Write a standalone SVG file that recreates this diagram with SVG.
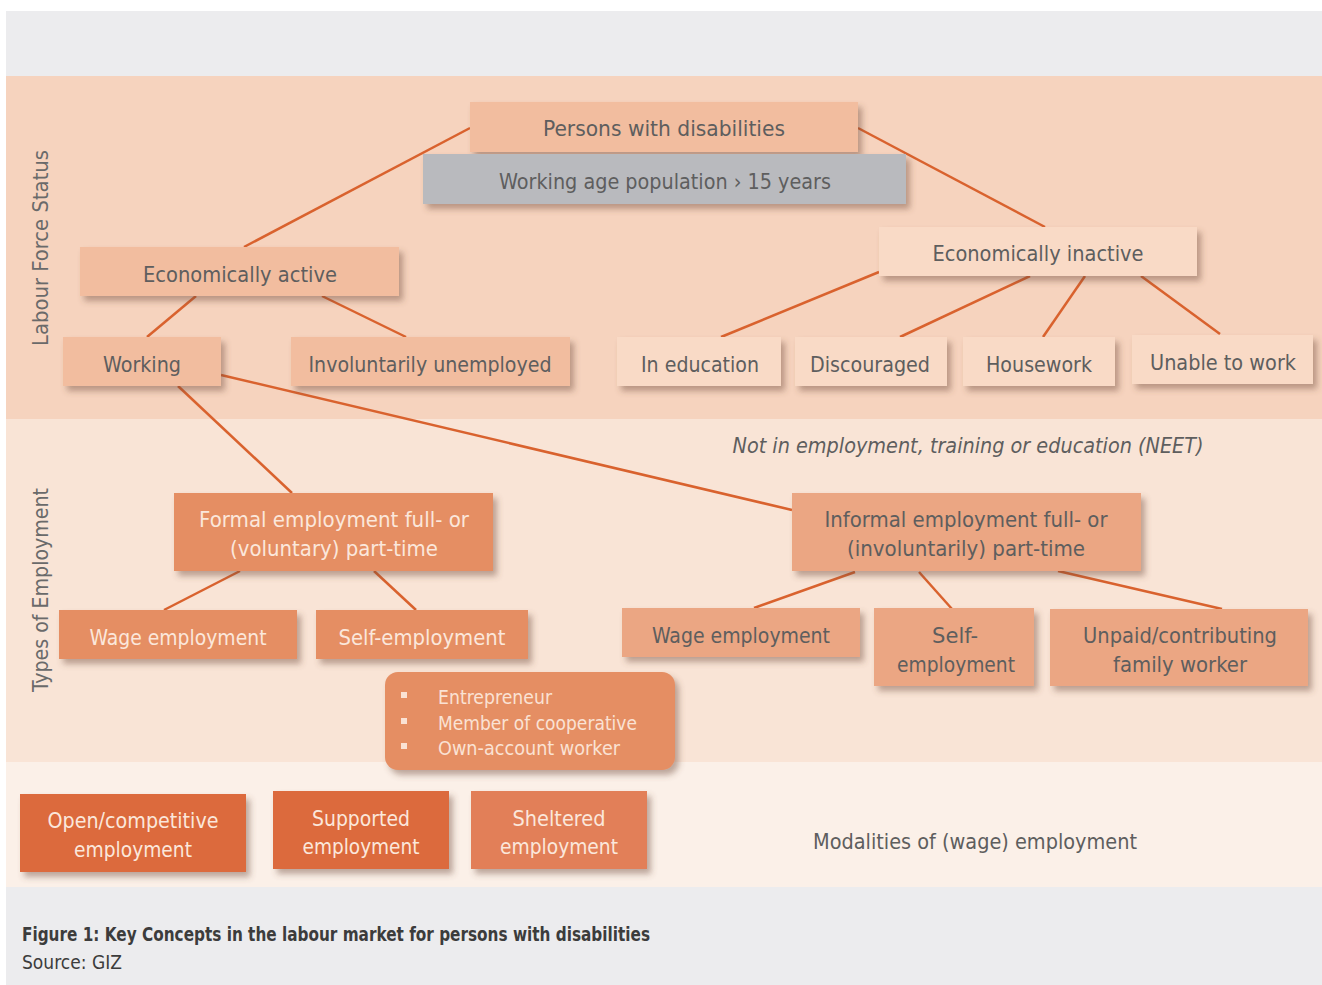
<svg xmlns="http://www.w3.org/2000/svg" width="1322" height="985" viewBox="0 0 1322 985">
<defs>
<filter id="sh" x="-10%" y="-20%" width="130%" height="160%">
<feDropShadow dx="4" dy="5" stdDeviation="3" flood-color="#6e4a3a" flood-opacity="0.45"/>
</filter>
<style>
text{font-family:"DejaVu Sans Condensed","DejaVu Sans","Liberation Sans",sans-serif;}
.t{font-size:22px;fill:#5e5e5e;text-anchor:middle;}
.w{font-size:22px;fill:#fbe7db;text-anchor:middle;}
.b{font-size:19px;fill:#fae2d4;}
.lab{font-size:21px;fill:#6a6a6a;text-anchor:middle;}
.c1{fill:#f2bd9f;filter:url(#sh);}
.c2{fill:#f9dac6;filter:url(#sh);}
.cg{fill:#b9babe;filter:url(#sh);}
.c3{fill:#e58e63;filter:url(#sh);}
.c4{fill:#eba683;filter:url(#sh);}
.c5{fill:#dc6b3c;filter:url(#sh);}
.c6{fill:#e27f58;filter:url(#sh);}
.ln line{stroke:#d9622e;stroke-width:2.5;}
</style>
</defs>
<rect x="0" y="0" width="1322" height="985" fill="#ffffff"/>
<rect x="6" y="11" width="1316" height="974" fill="#ececee"/>
<rect x="6" y="76" width="1316" height="343" fill="#f6d3be"/>
<rect x="6" y="419" width="1316" height="343" fill="#f9e4d6"/>
<rect x="6" y="762" width="1316" height="125" fill="#fbf0e8"/>

<g id="labels">
<text class="lab" transform="translate(48,248) rotate(-90)" textLength="196" lengthAdjust="spacingAndGlyphs">Labour Force Status</text>
<text class="lab" transform="translate(48,590) rotate(-90)" textLength="204" lengthAdjust="spacingAndGlyphs">Types of Employment</text>
<text class="t" x="968" y="453" font-style="italic" textLength="471" lengthAdjust="spacingAndGlyphs">Not in employment, training or education (NEET)</text>
<text class="t" x="975" y="849" textLength="324" lengthAdjust="spacingAndGlyphs">Modalities of (wage) employment</text>
<text x="22" y="941" font-size="19" font-weight="bold" fill="#3c3c3c" textLength="628" lengthAdjust="spacingAndGlyphs">Figure 1: Key Concepts in the labour market for persons with disabilities</text>
<text x="22" y="969" font-size="19" fill="#3c3c3c" textLength="100" lengthAdjust="spacingAndGlyphs">Source: GIZ</text>
</g>

<g id="connectors" class="ln">
<line x1="470" y1="128" x2="244" y2="247"/>
<line x1="858" y1="128" x2="1045" y2="227"/>
<line x1="196" y1="296" x2="147" y2="337"/>
<line x1="322" y1="296" x2="406" y2="337"/>
<line x1="879" y1="272" x2="721" y2="337"/>
<line x1="1030" y1="276" x2="900" y2="337"/>
<line x1="1085" y1="276" x2="1043" y2="337"/>
<line x1="1141" y1="276" x2="1220" y2="334"/>
<line x1="221" y1="375" x2="792" y2="510"/>
<line x1="178" y1="386" x2="292" y2="493"/>
<line x1="240" y1="571" x2="164" y2="610"/>
<line x1="374" y1="571" x2="416" y2="610"/>
<line x1="855" y1="572" x2="754" y2="608"/>
<line x1="919" y1="572" x2="952" y2="609"/>
<line x1="1058" y1="571" x2="1222" y2="609"/>
</g>

<g id="n-persons"><rect class="c1" x="470" y="102" width="388" height="50"/><text class="t" x="664" y="136" textLength="242" lengthAdjust="spacingAndGlyphs">Persons with disabilities</text></g>
<g id="n-working-age"><rect class="cg" x="423" y="154" width="483" height="50"/><text class="t" x="665" y="189" textLength="332" lengthAdjust="spacingAndGlyphs">Working age population › 15 years</text></g>
<g id="n-econ-active"><rect class="c1" x="80" y="247" width="319" height="49"/><text class="t" x="240" y="282" textLength="194" lengthAdjust="spacingAndGlyphs">Economically active</text></g>
<g id="n-econ-inactive"><rect class="c2" x="879" y="227" width="318" height="49"/><text class="t" x="1038" y="261" textLength="211" lengthAdjust="spacingAndGlyphs">Economically inactive</text></g>
<g id="n-working"><rect class="c1" x="63" y="337" width="158" height="49"/><text class="t" x="142" y="372" textLength="78" lengthAdjust="spacingAndGlyphs">Working</text></g>
<g id="n-unemployed"><rect class="c1" x="291" y="337" width="279" height="49"/><text class="t" x="430" y="372" textLength="243" lengthAdjust="spacingAndGlyphs">Involuntarily unemployed</text></g>
<g id="n-education"><rect class="c2" x="617" y="337" width="164" height="49"/><text class="t" x="700" y="372" textLength="118" lengthAdjust="spacingAndGlyphs">In education</text></g>
<g id="n-discouraged"><rect class="c2" x="795" y="337" width="152" height="49"/><text class="t" x="870" y="372" textLength="120" lengthAdjust="spacingAndGlyphs">Discouraged</text></g>
<g id="n-housework"><rect class="c2" x="963" y="337" width="152" height="49"/><text class="t" x="1039" y="372" textLength="106" lengthAdjust="spacingAndGlyphs">Housework</text></g>
<g id="n-unable"><rect class="c2" x="1132" y="335" width="181" height="49"/><text class="t" x="1223" y="370" textLength="146" lengthAdjust="spacingAndGlyphs">Unable to work</text></g>

<g id="n-formal"><rect class="c3" x="174" y="493" width="319" height="78"/><text class="w" x="334" y="527" textLength="270" lengthAdjust="spacingAndGlyphs">Formal employment full- or</text><text class="w" x="334" y="556" textLength="208" lengthAdjust="spacingAndGlyphs">(voluntary) part-time</text></g>
<g id="n-informal"><rect class="c4" x="792" y="493" width="349" height="78"/><text class="t" x="966" y="527" textLength="283" lengthAdjust="spacingAndGlyphs">Informal employment full- or</text><text class="t" x="966" y="556" textLength="238" lengthAdjust="spacingAndGlyphs">(involuntarily) part-time</text></g>
<g id="n-formal-wage"><rect class="c3" x="59" y="610" width="238" height="49"/><text class="w" x="178" y="645" textLength="177" lengthAdjust="spacingAndGlyphs">Wage employment</text></g>
<g id="n-formal-self"><rect class="c3" x="316" y="610" width="212" height="49"/><text class="w" x="422" y="645" textLength="167" lengthAdjust="spacingAndGlyphs">Self-employment</text></g>
<g id="n-self-types"><rect class="c3" x="385" y="672" width="290" height="98" rx="13"/>
<rect x="401" y="692" width="6" height="6" fill="#fae2d4"/><rect x="401" y="718" width="6" height="6" fill="#fae2d4"/><rect x="401" y="743" width="6" height="6" fill="#fae2d4"/>
<text class="b" x="438" y="704" textLength="114" lengthAdjust="spacingAndGlyphs">Entrepreneur</text>
<text class="b" x="438" y="730" textLength="199" lengthAdjust="spacingAndGlyphs">Member of cooperative</text>
<text class="b" x="438" y="755" textLength="182" lengthAdjust="spacingAndGlyphs">Own-account worker</text></g>
<g id="n-informal-wage"><rect class="c4" x="622" y="608" width="238" height="49"/><text class="t" x="741" y="643" textLength="178" lengthAdjust="spacingAndGlyphs">Wage employment</text></g>
<g id="n-informal-self"><rect class="c4" x="874" y="608" width="160" height="78"/><text class="t" x="955" y="643" textLength="46" lengthAdjust="spacingAndGlyphs">Self-</text><text class="t" x="956" y="672" textLength="118" lengthAdjust="spacingAndGlyphs">employment</text></g>
<g id="n-unpaid"><rect class="c4" x="1050" y="609" width="258" height="77"/><text class="t" x="1180" y="643" textLength="194" lengthAdjust="spacingAndGlyphs">Unpaid/contributing</text><text class="t" x="1180" y="672" textLength="134" lengthAdjust="spacingAndGlyphs">family worker</text></g>

<g id="n-open"><rect class="c5" x="20" y="794" width="226" height="78"/><text class="w" x="133" y="828" textLength="171" lengthAdjust="spacingAndGlyphs">Open/competitive</text><text class="w" x="133" y="857" textLength="118" lengthAdjust="spacingAndGlyphs">employment</text></g>
<g id="n-supported"><rect class="c5" x="273" y="791" width="176" height="78"/><text class="w" x="361" y="826" textLength="98" lengthAdjust="spacingAndGlyphs">Supported</text><text class="w" x="361" y="854" textLength="117" lengthAdjust="spacingAndGlyphs">employment</text></g>
<g id="n-sheltered"><rect class="c6" x="471" y="791" width="176" height="78"/><text class="w" x="559" y="826" textLength="93" lengthAdjust="spacingAndGlyphs">Sheltered</text><text class="w" x="559" y="854" textLength="118" lengthAdjust="spacingAndGlyphs">employment</text></g>
</svg>
